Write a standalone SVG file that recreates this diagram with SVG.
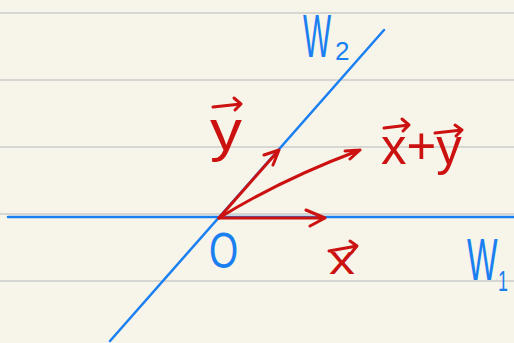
<svg xmlns="http://www.w3.org/2000/svg" width="514" height="343" viewBox="0 0 514 343">
<style>
.rule{stroke:#d6d6d2;stroke-width:2}
.blue{stroke:#1a7ff0;stroke-width:2.5;fill:none;stroke-linecap:round}
.red{stroke:#cc1111;stroke-width:3;fill:none;stroke-linecap:round;stroke-linejoin:round}
.tb{fill:#1a7ff0;font-family:"Liberation Sans",Arial,sans-serif}
.tr{fill:#cc1111;font-family:"Liberation Sans",Arial,sans-serif}
</style>
<rect width="514" height="343" fill="#f7f5ea"/>
<g id="rules">
<line class="rule" x1="0" y1="13" x2="514" y2="13"/>
<line class="rule" x1="0" y1="80" x2="514" y2="80"/>
<line class="rule" x1="0" y1="147" x2="514" y2="147"/>
<line class="rule" x1="0" y1="214" x2="514" y2="214"/>
<line class="rule" x1="0" y1="281" x2="514" y2="281"/>
</g>
<g id="axes">
<line class="blue" x1="8" y1="217" x2="514" y2="217"/>
<line class="blue" x1="110" y1="341" x2="384" y2="30"/>
</g>
<g id="vectors">
<path class="red" d="M219,218 L325,218 M306,210 L325,218 L310,226"/>
<path class="red" d="M219,218 L279,150 M264,155 L279,150 L273,165"/>
<path class="red" d="M219,218 Q280,180 360,150 M345,151 L360,150 L350,159"/>
</g>
<g id="labels">
<text class="tb" transform="translate(303,57) scale(0.48,1)" font-size="62">W</text>
<text class="tb" x="335" y="60" font-size="26">2</text>
<text class="tb" transform="translate(209,268) scale(0.75,1)" font-size="50">O</text>
<text class="tb" transform="translate(467,280) scale(0.54,1)" font-size="60">W</text>
<text class="tb" transform="translate(498,291) scale(0.6,1)" font-size="30">1</text>
<text class="tr" transform="translate(210,150) scale(1.1,1)" font-size="58">y</text>
<path class="red" d="M213,107 L241,104 M234,98 L241,104 L235,110"/>
<text class="tr" transform="translate(329,274) scale(1.3,1)" font-size="40">x</text>
<path class="red" d="M329,251 L357,246 M350,241 L357,246 L352,252"/>
<text class="tr" transform="translate(381,164) scale(0.98,1)" font-size="52">x+y</text>
<path class="red" d="M384,128 L409,125 M402,119 L409,125 L403,131"/>
<path class="red" d="M435,133 L462,130 M455,125 L462,130 L456,136"/>
</g>
</svg>
